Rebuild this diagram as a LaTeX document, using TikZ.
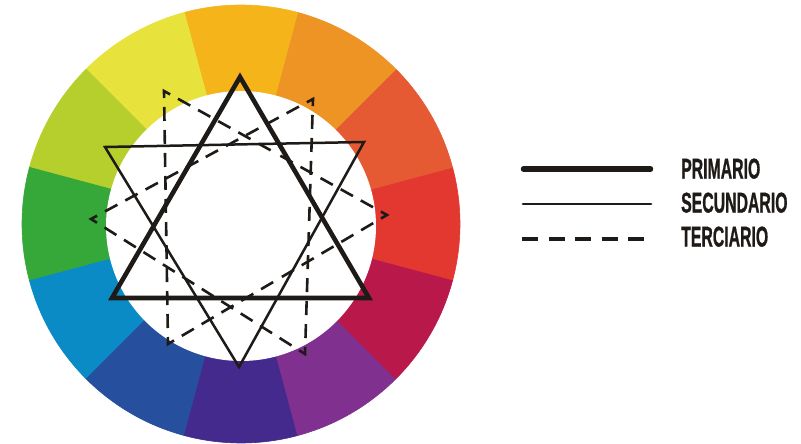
\documentclass[tikz,border=0pt]{standalone}
\usepackage{fontspec}
\setmainfont{Liberation Sans}
\newfontfamily\legendfont[FakeBold=1.2]{Liberation Sans Bold}
\usetikzlibrary{calc}
\definecolor{ink}{HTML}{1E1A17}
\definecolor{w0}{HTML}{E2382F}
\definecolor{w30}{HTML}{E55A32}
\definecolor{w60}{HTML}{ED9424}
\definecolor{w90}{HTML}{F4B41A}
\definecolor{w120}{HTML}{E8E33C}
\definecolor{w150}{HTML}{B6CF2C}
\definecolor{w180}{HTML}{36A839}
\definecolor{w210}{HTML}{0A8BC6}
\definecolor{w240}{HTML}{26509D}
\definecolor{w270}{HTML}{432A8C}
\definecolor{w300}{HTML}{80308F}
\definecolor{w330}{HTML}{B8194A}
\begin{document}
\begin{tikzpicture}[x=1pt,y=-1pt,
  prim/.style={draw=ink, line width=4.6pt, line join=miter},
  secd/.style={draw=ink, line width=2.5pt, line join=miter},
  tert/.style={draw=ink, line width=2.6pt, dash pattern=on 14pt off 9pt},
  chev/.style={draw=ink, line width=2.6pt, line join=miter},
  lab/.style={anchor=base west, inner sep=0pt, text=ink,
    font=\legendfont\fontsize{28.5}{28.5}\selectfont}]
\useasboundingbox (0,0) rectangle (801,444);
\fill[white] (0,0) rectangle (801,444);
% colour wheel
\begin{scope}[shift={(241,224)}, yscale=-1]
  \foreach \a in {0,30,...,330}{
    \filldraw[fill=w\a, draw=w\a, line width=0.6pt]
      (0,0) -- (\a-15:219) arc[start angle=\a-15, end angle=\a+15, radius=219] -- cycle;
  }
\end{scope}
\fill[white] (241,226) circle[radius=135];
% primary triangle
\coordinate (p1) at (240,77);
\coordinate (p2) at (112,298);
\coordinate (p3) at (369,298);
% secondary triangle
\coordinate (s1) at (105,147);
\coordinate (s2) at (364,142);
\coordinate (s3) at (239,367);
% tertiary triangles
\coordinate (ta1) at (164,91);
\coordinate (ta2) at (387,215);
\coordinate (ta3) at (168,344);
\coordinate (tb1) at (313,99);
\coordinate (tb2) at (91,219);
\coordinate (tb3) at (305,354);
% dashed sides, drawn from each vertex to the side midpoint
\foreach \u/\w in {ta1/ta2,ta2/ta3,ta3/ta1,tb1/tb2,tb2/tb3,tb3/tb1}{
  \coordinate (m) at ($(\u)!0.5!(\w)$);
  \draw[tert] ($(\u)!16pt!(\w)$) -- (m);
  \draw[tert] ($(\w)!16pt!(\u)$) -- (m);
}
% chevrons at the vertices
\foreach \v/\a/\b in {ta1/ta2/ta3,ta2/ta3/ta1,ta3/ta1/ta2,tb1/tb2/tb3,tb2/tb3/tb1,tb3/tb1/tb2}{
  \draw[chev] ($(\v)!7pt!(\a)$) -- (\v) -- ($(\v)!7pt!(\b)$);
}
\draw[secd] (s1) -- (s2) -- (s3) -- cycle;
\draw[prim] (p1) -- (p2) -- (p3) -- cycle;
% legend
\coordinate (l1a) at (523.5,169);
\coordinate (l1b) at (650.5,169);
\coordinate (l2a) at (523,204);
\coordinate (l2b) at (651,204);
\coordinate (l3a) at (522,239);
\coordinate (l3b) at (644,239);
\draw[ink, line width=5.5pt, line cap=round] (l1a) -- (l1b);
\draw[ink, line width=2.7pt, line cap=round] (l2a) -- (l2b);
\draw[ink, line width=3.2pt, dash pattern=on 16pt off 10.5pt] (l3a) -- (l3b);
\node[lab] (t1) at (681,178.5) {\scalebox{0.555}[1]{PRIMARIO}};
\node[lab] (t2) at (681,212.5) {\scalebox{0.555}[1]{SECUNDARIO}};
\node[lab] (t3) at (681,246.5) {\scalebox{0.555}[1]{TERCIARIO}};
\end{tikzpicture}
\end{document}
